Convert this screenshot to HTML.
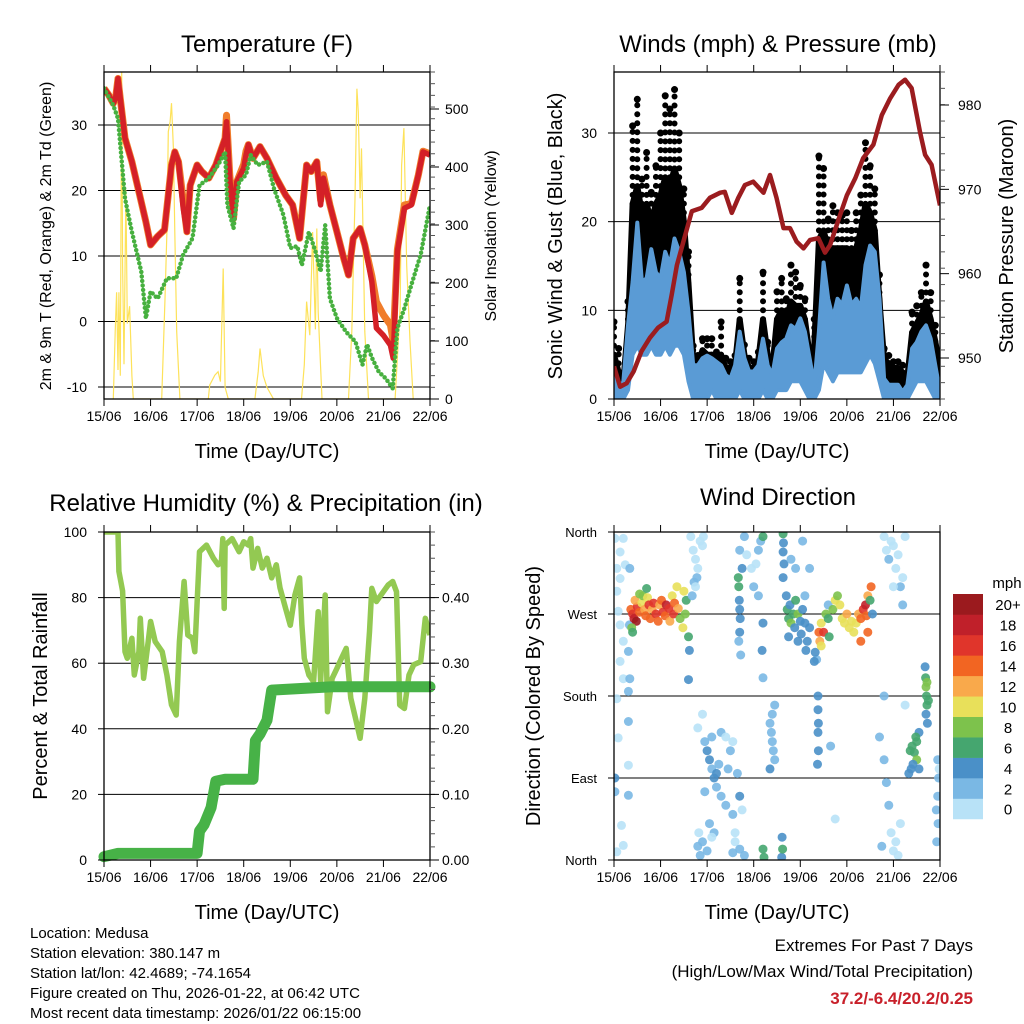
<!DOCTYPE html>
<html><head><meta charset="utf-8"><style>
body{margin:0;background:#fff}
svg{display:block;font-family:"Liberation Sans",Arial,sans-serif}
</style></head><body>
<svg id="fig" width="1024" height="1024" viewBox="0 0 1024 1024" xmlns="http://www.w3.org/2000/svg">
<rect width="1024" height="1024" fill="#fff"/>
<g id="p1"></g>
<g id="p2"></g>
<g id="p3"></g>
<g id="p4"></g>
<text x="267" y="52" font-size="24" text-anchor="middle">Temperature (F)</text>
<text x="778" y="52" font-size="24" text-anchor="middle">Winds (mph) &amp; Pressure (mb)</text>
<text x="266" y="511" font-size="24" text-anchor="middle">Relative Humidity (%) &amp; Precipitation (in)</text>
<text x="778" y="505" font-size="24" text-anchor="middle">Wind Direction</text>
<g font-size="15">
<text x="30" y="938">Location: Medusa</text>
<text x="30" y="958">Station elevation: 380.147 m</text>
<text x="30" y="978">Station lat/lon: 42.4689; -74.1654</text>
<text x="30" y="998">Figure created on Thu, 2026-01-22, at 06:42 UTC</text>
<text x="30" y="1018">Most recent data timestamp: 2026/01/22 06:15:00</text>
</g>
<text x="973" y="951" font-size="17" text-anchor="end">Extremes For Past 7 Days</text>
<text x="973" y="977" font-size="17" text-anchor="end">(High/Low/Max Wind/Total Precipitation)</text>
<text x="973" y="1004" font-size="17" font-weight="bold" fill="#c8202a" text-anchor="end">37.2/-6.4/20.2/0.25</text>
</svg>
<script>
// ---------- data ----------
const dayLabels=["15/06","16/06","17/06","18/06","19/06","20/06","21/06","22/06"];
const tempDays=[0,0.1,0.2,0.25,0.3,0.35,0.45,0.6,0.75,0.9,1.0,1.15,1.3,1.45,1.52,1.6,1.7,1.78,1.85,2.0,2.1,2.25,2.4,2.6,2.63,2.7,2.78,2.85,3.0,3.05,3.1,3.2,3.35,3.5,3.7,3.9,4.05,4.2,4.35,4.45,4.57,4.65,4.71,4.85,5.0,5.15,5.25,5.35,5.5,5.6,5.75,5.85,6.0,6.15,6.21,6.3,6.45,6.6,6.75,6.85,7.0];
const tempRed=[35.6,34.6,33.3,34.1,37.1,34,28,24.4,19.8,15.2,11.7,13,14,23.9,25.9,24.4,17.3,13.7,20.8,23.9,22.9,21.9,23.9,28,30.5,21.9,15.7,21.3,23.4,25.4,27,24.9,26.7,24.9,21.9,19.3,17.8,12.7,23.9,22.9,24.4,17.8,21.9,17.8,13.7,9.6,7.1,12.7,14.2,11.7,6.1,-1.0,-2.1,-3.6,-5.6,10.7,17.3,17.8,22.4,25.9,25.4];
const tempOrange=[35.6,34.6,33.3,34.1,37.1,34,28,24.4,19.8,15.2,11.7,13,14,23.9,25.9,24.4,18.5,13.7,20.8,23.9,22.9,21.9,23.9,28,31.5,22.5,15.7,21.3,24,26,27,24.9,26.7,24.9,21.9,19.3,17.8,12.7,23.9,22.9,24.4,18.5,22.4,17.8,13.7,9.6,7.1,12.7,14.2,11.7,7,3,1,-0.5,-3,11,17.8,18,22.4,26,25.6];
const dewDays=[0,0.2,0.3,0.45,0.6,0.8,0.9,1.0,1.15,1.35,1.55,1.7,1.9,2.05,2.25,2.45,2.6,2.65,2.78,2.9,3.05,3.15,3.3,3.5,3.65,3.85,4.0,4.15,4.25,4.4,4.55,4.65,4.75,4.85,5.0,5.2,5.4,5.55,5.65,5.75,5.9,6.05,6.2,6.3,6.45,6.6,6.8,7.0];
const dewVals=[35.6,33.0,31,18.8,13.7,7.6,0.5,4.6,3.5,6.6,6.6,10.2,12.7,20.8,21.9,23.9,25.9,17.8,14.2,21.3,22.4,25.4,23.9,24.4,20.3,16.3,11.2,11.5,8.6,13.7,10.5,7.6,14.7,3.5,0.5,-1.6,-3.1,-6.6,-3.5,-5.5,-7.7,-8.7,-10.2,-1.0,2.0,5.6,10.2,17.8];
const solarDays=[0.2,0.24,0.27,0.3,0.32,0.35,0.38,0.4,0.43,0.47,0.5,0.55,0.6,0.63,
1.24,1.31,1.35,1.38,1.42,1.45,1.49,1.52,1.56,1.63,
2.24,2.27,2.38,2.45,2.5,2.56,2.6,2.67,
3.24,3.31,3.35,3.42,3.5,3.64,
4.24,4.3,4.35,4.42,4.48,4.54,4.57,4.6,4.68,
5.25,5.32,5.39,5.43,5.46,5.5,5.53,5.6,5.68,
6.25,6.36,6.39,6.44,6.5,6.57,6.64];
const solarVals=[0,116,184,50,184,40,564,230,60,360,130,160,40,0,
0,173,288,461,478,510,432,288,116,0,
0,24,41,47,30,225,20,0,
0,47,87,40,20,0,
0,59,168,110,288,120,294,150,0,
0,116,346,535,495,346,432,116,0,
0,160,403,467,230,100,0];

const windHi=[3.1,1.6,1.9,8.3,13.2,19.9,13.2,13.6,16.9,14.3,13.6,16.6,15.1,18.1,16.6,14.3,9.8,3.8,3.8,4.6,4.9,4.6,4.2,3.8,2.7,2.3,3.8,7.6,4.6,3.1,3.1,3.8,6.8,3.8,2.7,5.7,6.4,6.8,8.3,7.9,9.1,7.6,4.6,1.6,7.6,15.4,11.3,9.1,11.3,10.6,12.8,10.6,11.3,10.2,15.1,17.3,16.6,11.3,2.3,1.6,1.6,1.6,0.8,1.6,5.7,6.4,7.6,8.3,6.8,3.8,0.8];
const windLo=[0,0,0,1,5,6,5,5,6,5,5,6,5,6,6,5,2,0,0,0,0,1,0,0,0,0,0,1,0,0,0,0,1,0,0,1,1,1,2,2,2,1,0,0,1,4,3,2,3,3,3,3,3,3,4,5,4,2,0,0,0,0,0,0,1,2,2,2,1,0,0];
const gustMid=[5,3,2,8,22,24,21,22,20,22,23,25,24,26,24,20,13,4.5,4,5.5,5,5,4,5,3.5,3.5,4,9,5,3.5,3.5,4.5,9,5,3.5,9,10,9,11,10.5,10.5,9,5,6,18,19,17,17,17,17,17,16,17,19,22,21,19,11,4.5,4,3.5,3.5,3,2.5,7.5,8.5,9.5,11,9,6.5,3.5];
const gustHi=[8.7,5.7,3,11,30.8,33.8,24.8,27.8,23.3,26.3,30,34.2,32.7,34.9,30,23.7,16.6,6,4.9,6.8,6.8,6.8,5.3,8.7,4.6,4.2,4.9,13.6,6.1,4.6,4.2,5.3,14.3,6.4,4.6,12.1,13.6,11.3,15.1,14.3,12.8,11.3,5.7,9,27.4,26,20.3,21.8,21,20.7,21,19,21,23,28.9,26.3,23.7,14,5.7,4.9,4.2,4.2,3.8,2.7,9.8,10.5,12,15.1,12,8.3,4.9];
const presDays=[0,0.13,0.27,0.42,0.59,0.77,0.95,1.13,1.24,1.35,1.49,1.67,1.88,2.06,2.28,2.38,2.53,2.67,2.81,2.99,3.21,3.35,3.49,3.64,3.78,3.92,4.07,4.21,4.39,4.53,4.64,4.85,5.0,5.18,5.35,5.57,5.75,5.93,6.11,6.25,6.39,6.57,6.68,6.82,7.0];
const presVals=[949.0,946.6,947.0,948.4,950.8,952.4,953.6,954.3,957.5,961.0,963.8,967.4,967.8,969.0,969.6,969.7,967.2,969.0,970.5,970.9,969.6,971.7,969.0,965.4,965.4,963.8,963.0,964.0,964.2,962.5,963.4,966.9,969.3,971.3,973.7,975.3,978.8,980.8,982.4,983.0,982.0,976.8,974.1,972.9,968.1];

const rhDays=[0,0.3,0.32,0.4,0.45,0.5,0.6,0.65,0.75,0.78,0.85,0.95,1.0,1.1,1.25,1.35,1.45,1.55,1.62,1.72,1.8,1.9,1.95,2.05,2.2,2.35,2.45,2.52,2.55,2.58,2.6,2.75,2.9,3.0,3.1,3.15,3.2,3.3,3.4,3.5,3.6,3.7,3.78,3.9,4.0,4.1,4.2,4.25,4.3,4.4,4.5,4.6,4.65,4.75,4.8,4.9,5.0,5.1,5.2,5.3,5.4,5.5,5.6,5.7,5.75,5.85,6.0,6.1,6.2,6.28,6.35,6.45,6.55,6.65,6.8,6.9,7.0];
const rhVals=[100,100,88,82,63.5,61.5,67.6,56.4,63.5,73.7,55.4,66.6,72.7,66.6,63.5,56.4,47.3,44.2,66.6,84.9,68.6,67.6,63.5,94,96,92,90,91,98,76.7,96,98,94,97,96,98,89,95,89,92,86,90,83,76.7,71.6,80.8,86,71.6,61.5,56.4,54.4,75.7,54.4,80.8,45.2,55.4,58.4,61.5,64.5,49.3,43.2,37.1,49.3,69.6,82.8,78.8,81.8,83.8,84.9,81.8,47.3,46.2,56.4,59.5,60.5,73.7,68.6];
const rainDays=[0,0.3,2.0,2.05,2.15,2.3,2.4,2.6,3.2,3.25,3.35,3.5,3.6,4.9,7.0];
const rainVals=[0.005,0.01,0.01,0.044,0.054,0.08,0.12,0.123,0.123,0.182,0.192,0.213,0.259,0.264,0.264];

const dirDay=[0.02,0.2,0.13,0.06,0.24,0.13,0.06,0.09,0.13,0.2,0.31,0.13,0.2,0.31,0.06,0.31,0.09,0.31,0.02,0.02,0.31,0.16,0.2,0.06,0.34,0.33,0.34,
0.36,0.4,0.43,0.48,0.5,0.45,0.55,0.6,0.62,0.66,0.68,0.72,0.75,0.78,0.82,0.85,0.9,0.95,0.98,1.02,1.05,1.1,1.12,1.18,1.2,1.25,1.28,1.3,1.35,1.38,1.42,1.48,1.5,1.53,0.38,0.4,0.7,0.55,1.6,1.62,1.6,1.55,
1.65,1.7,1.75,1.8,1.72,1.68,1.78,1.85,1.9,1.92,1.75,
2.67,2.68,2.69,2.7,2.71,2.7,2.68,2.72,2.7,2.75,
2.8,2.85,2.95,3.0,3.05,3.1,3.15,3.2,3.1,3.2,3.18,3.2,
3.63,3.64,3.63,3.65,3.63,3.8,3.9,4.05,4.2,4.1,4.6,4.35,
3.7,3.72,3.75,3.78,3.8,3.85,3.88,3.9,3.95,4.0,4.02,4.05,4.1,4.15,4.12,4.2,3.75,3.95,4.3,4.32,
4.4,4.42,4.45,4.5,4.45,4.55,4.6,4.62,4.7,4.75,4.8,4.85,4.9,4.95,5.0,5.05,5.1,5.15,5.2,5.25,5.3,5.35,5.4,5.42,5.45,5.5,5.55,5.52,5.45,5.3,
5.8,5.85,5.9,5.95,6.0,6.05,6.1,6.15,6.2,6.0,6.25,6.2,
6.68,6.69,6.7,6.71,6.72,6.7,6.73,6.75,6.72,
6.36,6.4,6.45,6.5,6.42,6.38,6.5,6.55,6.55,6.48,6.33,
6.95,6.97,6.95,6.92,6.96,6.93,6.98,
1.8,1.9,1.95,2.0,2.05,2.1,2.15,2.2,2.25,2.3,2.4,2.5,2.55,2.45,2.1,2.2,2.3,2.4,2.55,2.65,2.7,1.95,2.05,2.15,2.6,2.75,
1.82,1.8,1.85,1.9,2.0,2.1,2.55,2.6,2.7,2.8,3.2,3.22,3.6,3.62,3.61,
3.35,3.38,3.4,3.42,3.45,3.4,3.35,3.45,
4.38,4.38,4.39,4.38,4.39,4.37,
5.7,5.8,5.85,5.9,5.95,6.0,6.05,6.1,6.15,5.75,4.75,4.65,5.8,6.25];
const dirDeg=[353,353,338,320,324,309,295,273,258,240,229,218,199,185,177,152,134,104,90,75,71,38,16,9,320,258,199,
275,270,265,262,278,285,272,282,290,275,268,288,280,265,275,282,270,262,280,285,272,268,280,276,262,290,270,282,300,276,265,255,295,270,255,250,298,292,245,230,198,285,
355,340,330,320,305,290,310,350,345,355,300,
310,300,285,275,265,250,240,225,340,320,
355,335,320,300,325,340,350,355,290,260,230,200,
358,348,338,325,310,330,320,350,320,290,280,220,
290,275,265,280,260,270,255,285,270,262,248,275,260,240,230,255,245,240,218,228,
250,240,260,250,235,270,265,245,275,285,290,280,265,260,270,255,262,250,260,270,265,275,280,268,290,285,270,300,250,240,
355,340,330,350,345,320,335,300,310,300,355,280,
212,200,190,180,170,160,150,175,195,
120,125,118,110,105,100,130,140,100,135,95,
110,90,70,55,40,20,100,
145,160,130,120,110,100,90,95,105,140,135,120,130,100,135,80,70,60,50,95,70,75,40,30,30,55,
30,15,5,20,10,25,8,20,12,5,12,3,3,12,25,
150,140,130,120,110,160,100,170,
180,165,150,140,120,105,
135,110,85,60,30,10,20,5,40,15,45,125,180,170];
const dirSpd=[1,1,1,1,1,1,1,1,1,1,2,1,1,3,1,2,1,1,4,3,2,1,1,1,3,2,3,
14,16,18,20,16,12,14,10,8,12,14,10,16,14,12,16,16,14,12,14,16,14,18,16,12,10,16,14,10,12,8,10,10,8,8,6,6,8,6,4,4,6,
1,1,1,1,2,2,2,1,1,1,1,
6,6,4,4,4,4,3,3,2,4,
2,1,1,2,1,2,3,6,3,4,4,3,
6,4,4,4,4,2,2,3,2,3,3,3,
4,6,6,4,8,6,4,6,8,4,4,4,4,4,4,4,4,4,4,4,
14,12,10,16,10,8,6,6,8,10,8,10,10,10,12,10,10,10,10,12,14,16,18,14,12,6,4,14,14,14,
1,1,2,1,1,1,1,2,1,1,1,2,
4,6,8,6,6,4,4,6,8,
6,6,6,8,4,4,6,4,4,6,4,
3,2,2,3,2,2,1,
1,1,2,4,4,2,4,4,3,2,1,2,1,2,2,2,2,2,2,3,4,2,2,2,1,1,
1,2,2,2,2,1,2,1,2,2,6,6,4,6,4,
2,2,2,2,2,2,4,2,
4,4,4,4,4,4,
2,2,2,2,1,1,1,1,1,2,1,2,2,1];
const speedColors=["#b8e2f7","#7ab8e4","#4a90c8","#45a66f","#7dc24c","#e8e05a","#f9a94b","#f26522","#e0352b","#c0202a","#9b1a1e"];
const speedLabels=["0","2","4","6","8","10","12","14","16","18","20+"];

// ---------- helpers ----------
const NS="http://www.w3.org/2000/svg";
function mk(parent,tag,attrs){const e=document.createElementNS(NS,tag);for(const k in attrs)e.setAttribute(k,attrs[k]);parent.appendChild(e);return e;}
function txt(parent,x,y,s,size,anchor,rot){const e=mk(parent,"text",{x:x,y:y,"font-size":size,"text-anchor":anchor||"middle"});if(rot)e.setAttribute("transform","rotate(-90 "+x+" "+y+")");e.textContent=s;return e;}
function lin(d0,d1,r0,r1){return v=>r0+(v-d0)/(d1-d0)*(r1-r0);}
function pts(xs,ys,fx,fy){return xs.map((d,i)=>fx(d).toFixed(1)+","+fy(ys[i]).toFixed(1)).join(" ");}

function frame(g,L,R,T,B,name){
  const clip=mk(g,"clipPath",{id:"clip-"+name});mk(clip,"rect",{x:L,y:T,width:R-L,height:B-T});
  const inner=mk(g,"g",{"clip-path":"url(#clip-"+name+")"});
  
  
  return inner;
}
function xAxis(g,L,R,T,B,name){
  const sx=lin(0,7,L,R);
  for(let i=0;i<8;i++){
    mk(g,"line",{x1:sx(i),x2:sx(i),y1:B,y2:B+7,stroke:"#000","stroke-width":1});
    mk(g,"line",{x1:sx(i),x2:sx(i),y1:T,y2:T-7,stroke:"#000","stroke-width":1});
    const t=txt(g,sx(i),B+22,dayLabels[i],14);
    
    
  }
  const xt=txt(g,(L+R)/2,B+59,"Time (Day/UTC)",20);
  
  
}
function border(g,L,R,T,B){mk(g,"rect",{x:L,y:T,width:R-L,height:B-T,fill:"none",stroke:"#000","stroke-width":1.3});}
function grid(g,L,R,ys){ys.forEach(y=>mk(g,"line",{x1:L,x2:R,y1:y,y2:y,stroke:"#000","stroke-width":1}));}
function rightMinor(g,R,T,B,n){for(let i=0;i<=n;i++){const y=T+(B-T)*i/n;mk(g,"line",{x1:R,x2:R+5,y1:y,y2:y,stroke:"#555","stroke-width":1});}}

// ---------- Panel 1 : temperature ----------
(function(){
  const g=document.getElementById("p1"),L=104,R=430,T=72,B=399;
  const sx=lin(0,7,L,R),sy=lin(-10,30,387,125),ss=lin(0,500,399,109);
  const inner=frame(g,L,R,T,B,"temperature");
  grid(inner,L,R,[-10,0,10,20,30].map(sy));
  const sol=mk(inner,"polyline",{points:pts(solarDays,solarVals,sx,ss),fill:"none",stroke:"#fde25a","stroke-width":1.2});
  
  
  const o=mk(inner,"polyline",{points:pts(tempDays,tempOrange,sx,sy),fill:"none",stroke:"#f07d2b","stroke-width":7,"stroke-linejoin":"round"});
  
  
  const r=mk(inner,"polyline",{points:pts(tempDays,tempRed,sx,sy),fill:"none",stroke:"#d42027","stroke-width":5.5,"stroke-linejoin":"round"});
  
  
  const d=mk(inner,"polyline",{points:pts(dewDays,dewVals,sx,sy),fill:"none",stroke:"#47b03f","stroke-width":4.5,"stroke-dasharray":"0 4.5","stroke-linecap":"round","stroke-linejoin":"round"});
  
  
  border(g,L,R,T,B);
  [-10,0,10,20,30].forEach(v=>{mk(g,"line",{x1:L-6,x2:L,y1:sy(v),y2:sy(v),stroke:"#000"});const t=txt(g,L-17,sy(v)+5,String(v),14,"end");
    
    });
  rightMinor(g,R,T,B,28);
  [0,100,200,300,400,500].forEach(v=>{mk(g,"line",{x1:R,x2:R+9,y1:ss(v),y2:ss(v),stroke:"#000"});const t=txt(g,R+15,ss(v)+5,String(v),14,"start");
    
    });
  const yt=txt(g,51,236,"2m & 9m T (Red, Orange) & 2m Td (Green)",16,"middle",true);
  
  
  const yr=txt(g,496,236,"Solar Insolation (Yellow)",16,"middle",true);
  
  
  xAxis(g,L,R,T,B,"temperature");
})();

// ---------- Panel 2 : winds ----------
(function(){
  const g=document.getElementById("p2"),L=614,R=940,T=72,B=399;
  const sx=lin(0,7,L,R),sy=lin(0,30,399,133),sp=lin(950,980,358,105);
  const inner=frame(g,L,R,T,B,"winds");
  grid(inner,L,R,[0,10,20,30].map(sy));
  const days=windHi.map((v,i)=>i*0.1);
  const gustPoly=days.map((d,i)=>sx(d).toFixed(1)+","+sy(gustMid[i]).toFixed(1)).concat(days.slice().reverse().map((d,j)=>{const i=days.length-1-j;return sx(d).toFixed(1)+","+sy(windHi[i]).toFixed(1);})).join(" ");
  const gp=mk(inner,"polygon",{points:gustPoly,fill:"#000",stroke:"#000","stroke-width":6,"stroke-linejoin":"round"});
  
  
  days.forEach((d,i)=>{
    const l=mk(inner,"line",{x1:sx(d),x2:sx(d),y1:sy(gustMid[i]),y2:sy(gustHi[i]),stroke:"#000","stroke-width":6,"stroke-linecap":"round","stroke-dasharray":"0 9"});
    
    
    const c=mk(inner,"circle",{cx:sx(d),cy:sy(gustHi[i]),r:3.5,fill:"#000"});
    
    });
  const windPoly=days.map((d,i)=>sx(d).toFixed(1)+","+sy(windHi[i]).toFixed(1)).concat(days.slice().reverse().map((d,j)=>{const i=days.length-1-j;return sx(d).toFixed(1)+","+sy(windLo[i]).toFixed(1);})).join(" ");
  const wp=mk(inner,"polygon",{points:windPoly,fill:"#5a9bd5",stroke:"#5a9bd5","stroke-width":4,"stroke-linejoin":"round"});
  
  
  const p=mk(inner,"polyline",{points:pts(presDays,presVals,sx,sp),fill:"none",stroke:"#9b1c1f","stroke-width":4.5,"stroke-linejoin":"round"});
  
  
  border(g,L,R,T,B);
  [0,10,20,30].forEach(v=>{mk(g,"line",{x1:L-6,x2:L,y1:sy(v),y2:sy(v),stroke:"#000"});const t=txt(g,L-17,sy(v)+5,String(v),14,"end");
    
    });
  rightMinor(g,R,T,B,20);
  [950,960,970,980].forEach(v=>{mk(g,"line",{x1:R,x2:R+9,y1:sp(v),y2:sp(v),stroke:"#000"});const t=txt(g,R+18,sp(v)+5,String(v),14,"start");
    
    });
  const yt=txt(g,562,236,"Sonic Wind & Gust (Blue, Black)",20,"middle",true);
  
  
  const yr=txt(g,1013,236,"Station Pressure (Maroon)",20,"middle",true);
  
  
  xAxis(g,L,R,T,B,"winds");
})();

// ---------- Panel 3 : humidity ----------
(function(){
  const g=document.getElementById("p3"),L=104,R=430,T=532,B=860;
  const sx=lin(0,7,L,R),sy=lin(0,100,860,532),sr=lin(0,0.5,860,532);
  const inner=frame(g,L,R,T,B,"humidity");
  grid(inner,L,R,[20,40,60,80].map(sy));
  const rh=mk(inner,"polyline",{points:pts(rhDays,rhVals,sx,sy),fill:"none",stroke:"#93c952","stroke-width":5.5,"stroke-linejoin":"round"});
  
  
  const rn=mk(g,"polyline",{points:pts(rainDays,rainVals,sx,sr),fill:"none",stroke:"#47b247","stroke-width":11,"stroke-linejoin":"round","stroke-linecap":"round"});
  
  
  border(g,L,R,T,B);
  [0,20,40,60,80,100].forEach(v=>{mk(g,"line",{x1:L-6,x2:L,y1:sy(v),y2:sy(v),stroke:"#000"});const t=txt(g,L-17,sy(v)+5,String(v),14,"end");
    
    });
  rightMinor(g,R,T,B,25);
  [0,0.1,0.2,0.3,0.4].forEach(v=>{mk(g,"line",{x1:R,x2:R+9,y1:sr(v),y2:sr(v),stroke:"#000"});const t=txt(g,R+12,sr(v)+5,v.toFixed(2),14,"start");
    
    });
  const yt=txt(g,47,696,"Percent & Total Rainfall",20,"middle",true);
  
  
  xAxis(g,L,R,T,B,"humidity");
})();

// ---------- Panel 4 : wind direction ----------
(function(){
  const g=document.getElementById("p4"),L=614,R=940,T=532,B=860;
  const sx=lin(0,7,L,R),sy=lin(0,360,860,532);
  const inner=frame(g,L,R,T,B,"direction");
  grid(inner,L,R,[90,180,270].map(sy));
  dirDay.forEach((d,i)=>{const idx=Math.min(10,Math.floor(dirSpd[i]/2));
    const c=mk(inner,"circle",{cx:sx(d).toFixed(1),cy:sy(dirDeg[i]).toFixed(1),r:4.5,fill:speedColors[idx],"fill-opacity":0.9});
    
    });
  border(g,L,R,T,B);
  const lab=["North","East","South","West","North"];
  [0,90,180,270,360].forEach((v,i)=>{mk(g,"line",{x1:L-6,x2:L,y1:sy(v),y2:sy(v),stroke:"#000"});const t=txt(g,L-17,sy(v)+5,lab[i],13,"end");
    
    });
  const yt=txt(g,540,696,"Direction (Colored By Speed)",20,"middle",true);
  
  
  xAxis(g,L,R,T,B,"direction");
  const cb=mk(g,"g",{});
  
  
  const h=20.45,top=594;
  speedColors.forEach((c,i)=>{const y=top+(10-i)*h;
    const r=mk(cb,"rect",{x:953,y:y,width:30,height:h+0.3,fill:c});
    
    
    const t=txt(cb,1008,y+h/2+6,speedLabels[i],15,"middle");
    
    });
  const m=txt(cb,1007,588,"mph",15,"middle");
  
  
})();
</script>
</body></html>
